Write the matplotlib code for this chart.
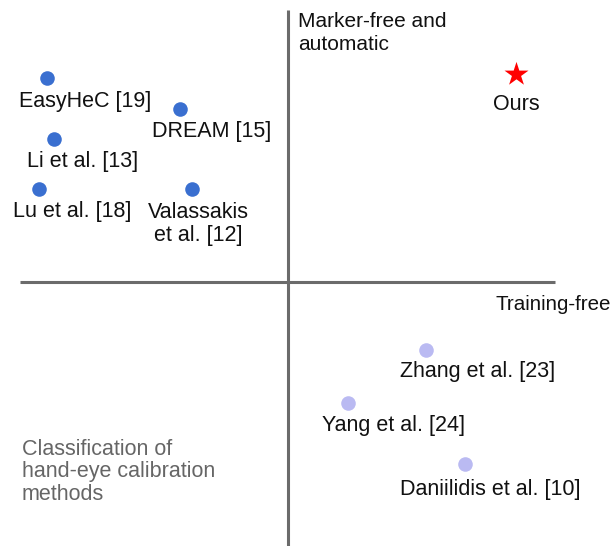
import matplotlib
matplotlib.use("Agg")
import matplotlib.pyplot as plt

plt.rcParams['font.family'] = ['Liberation Sans', 'DejaVu Sans']

# Marker-based methods (upper-left quadrant)
marker_names = ["EasyHeC [19]", "DREAM [15]", "Li et al. [13]", "Lu et al. [18]", "Valassakis\net al. [12]"]
marker_x = [47, 180, 54, 39, 192]
marker_y = [78, 109, 139, 189, 189]

# Training-free methods (lower-right quadrant)
tf_names = ["Zhang et al. [23]", "Yang et al. [24]", "Daniilidis et al. [10]"]
tf_x = [426, 348, 465]
tf_y = [350, 403, 464]

# Ours
ours_name = "Ours"
ours_x = [516]
ours_y = [74]

# label offsets (pixels, dx, dy down)
marker_off = [(38, 23), (32, 22), (29, 22), (33, 23), (6, 35)]
tf_off = [(52, 22), (46, 22), (25, 26)]
ours_off = (0, 31)

W, H = 613, 546
fig = plt.figure(figsize=(W / 100, H / 100), dpi=100)
ax = fig.add_axes([0, 0, 1, 1])
ax.set_xlim(0, W)
ax.set_ylim(H, 0)
ax.axis('off')

axis_col = '#6b6b6b'
ax.plot([288, 288], [10, 546], color=axis_col, lw=2.2, solid_capstyle='butt')
ax.plot([20, 555], [282, 282], color=axis_col, lw=2.2, solid_capstyle='butt')

fs = 15.5
ax.scatter(marker_x, marker_y, s=110, color='#3a6fd0', zorder=3, linewidths=0)
ax.scatter(tf_x, tf_y, s=110, color='#babaf2', zorder=3, linewidths=0)
ax.scatter(ours_x, ours_y, s=330, marker='*', color='#ff0000', zorder=3, linewidths=0)

for n, x, y, (dx, dy) in zip(marker_names, marker_x, marker_y, marker_off):
    ax.text(x + dx, y + dy, n, ha='center', va='center', fontsize=fs, color='#111111', linespacing=1.1)
for n, x, y, (dx, dy) in zip(tf_names, tf_x, tf_y, tf_off):
    ax.text(x + dx, y + dy, n, ha='center', va='center', fontsize=fs, color='#111111')
ax.text(ours_x[0] + ours_off[0], ours_y[0] + ours_off[1], ours_name, ha='center', va='center',
        fontsize=fs, color='#111111')

ax.text(298, 33, "Marker-free and\nautomatic", ha='left', va='center', fontsize=fs - 0.5,
        color='#111111', linespacing=1.22)
ax.text(611, 304, "Training-free", ha='right', va='center', fontsize=fs - 0.7, color='#111111')
ax.text(22, 472, "Classification of\nhand-eye calibration\nmethods", ha='left', va='center',
        fontsize=fs, color='#666666', linespacing=1.1)

fig.savefig("out.png", dpi=100)
